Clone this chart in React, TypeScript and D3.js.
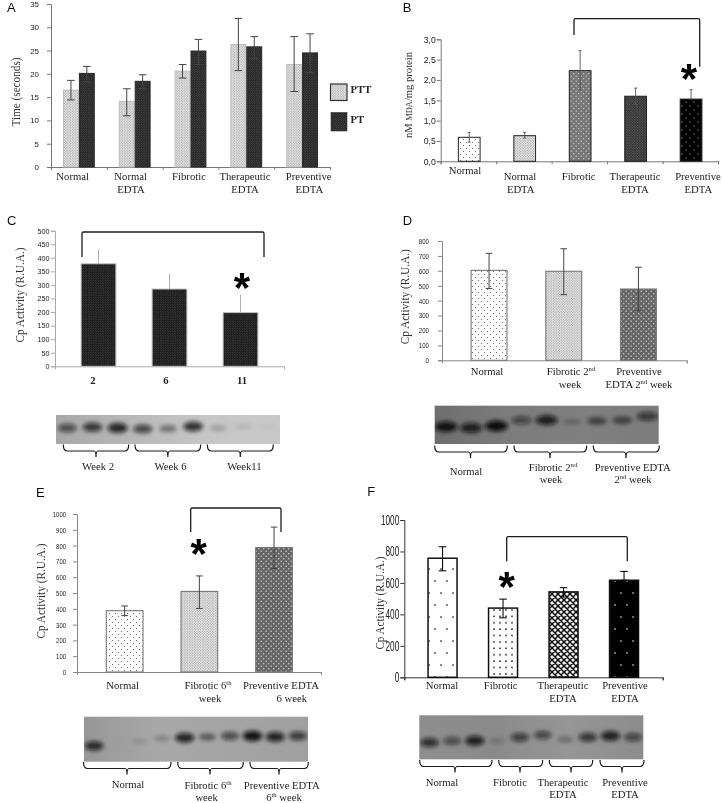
import React, { useEffect, useRef } from 'react';
import * as d3 from 'd3';

// values
const fiveGroups = ['Normal', 'Normal EDTA', 'Fibrotic', 'Therapeutic EDTA', 'Preventive EDTA'];
const pttValues = [16.5, 14.1, 20.6, 26.3, 22];
const pttLow = [14.4, 11, 19.1, 20.7, 16.2];
const pttHigh = [18.6, 16.8, 22, 31.9, 28];
const ptValues = [20.1, 18.4, 24.9, 25.8, 24.5];
const ptLow = [18.3, 16.8, 22, 23.3, 20.3];
const ptHigh = [21.6, 19.8, 27.4, 28, 28.6];
const timeTicks = [0, 5, 10, 15, 20, 25, 30, 35];

const mdaValues = [0.59, 0.63, 2.23, 1.6, 1.53];
const mdaLow = [0.47, 0.57, 1.75, 1.4, 1.53];
const mdaHigh = [0.71, 0.71, 2.72, 1.8, 1.76];
const mdaTicks = [0, 0.5, 1, 1.5, 2, 2.5, 3];

const weeks = ['2', '6', '11'];
const weekValues = [378, 285, 198];
const weekHigh = [431, 342, 265];
const weekTicks = d3.range(0, 501, 50);

const week2Groups = ['Normal', 'Fibrotic', 'Preventive'];
const week2Values = [603, 597, 478];
const week2Low = [482, 440, 332];
const week2High = [717, 748, 624];
const week2Ticks = d3.range(0, 801, 100);

const week6Groups = ['Normal', 'Fibrotic', 'Preventive'];
const week6Values = [388, 510, 788];
const week6Low = [357, 402, 655];
const week6High = [418, 608, 917];
const week6Ticks = d3.range(0, 1001, 100);

const fourGroups = ['Normal', 'Fibrotic', 'Therapeutic', 'Preventive'];
const finalValues = [757, 440, 543, 617];
const finalLow = [677, 378, 510, 617];
const finalHigh = [830, 497, 570, 673];
const finalTicks = [0, 200, 400, 600, 800, 1000];

// blot lanes: band darkness and how far down the gel the band ran
const blotCDark = [0.62, 0.75, 0.85, 0.68, 0.4, 0.8, 0.2, 0.1, 0.04];
const blotCRun = [0.45, 0.42, 0.45, 0.48, 0.47, 0.4, 0.45, 0.4, 0.4];
const blotDDark = [0.95, 0.85, 1, 0.55, 0.85, 0.22, 0.5, 0.5, 0.65];
const blotDRun = [0.55, 0.58, 0.53, 0.38, 0.38, 0.42, 0.4, 0.38, 0.28];
const blotEDark = [0.8, 0.02, 0.12, 0.22, 0.85, 0.45, 0.6, 0.95, 0.85, 0.7];
const blotERun = [0.65, 0.55, 0.55, 0.48, 0.47, 0.45, 0.43, 0.43, 0.45, 0.43];
const blotFDark = [0.75, 0.55, 0.85, 0.18, 0.65, 0.6, 0.28, 0.7, 0.85, 0.6];
const blotFRun = [0.62, 0.58, 0.58, 0.58, 0.5, 0.45, 0.55, 0.5, 0.47, 0.5];

const SERIF = '"Liberation Serif", serif';
const SANS = '"Liberation Sans", sans-serif';

type Sel = d3.Selection<any, any, any, any>;

function addPatterns(defs: Sel) {
  const make = (id: string, w: number, h: number, bg: string) => {
    const p = defs.append('pattern').attr('id', id).attr('width', w).attr('height', h)
      .attr('patternUnits', 'userSpaceOnUse');
    p.append('rect').attr('width', w).attr('height', h).attr('fill', bg);
    return p;
  };
  const dots = (p: Sel, pts: number[][], r: number, c: string) => {
    pts.forEach(([x, y]) => p.append('circle').attr('cx', x).attr('cy', y).attr('r', r).attr('fill', c));
  };
  dots(make('sparse', 6, 6, '#fff'), [[1.5, 1.5], [4.5, 4.5]], 0.5, '#444');
  dots(make('fine', 2.6, 2.6, '#efefef'), [[0.65, 0.65], [1.95, 1.95]], 0.55, '#888');
  dots(make('midDots', 5, 5, '#666'), [[1.2, 1.2], [3.7, 3.7]], 0.75, '#d0d0d0');
  dots(make('darkFine', 2.4, 2.4, '#242424'), [[0.6, 0.6], [1.8, 1.8]], 0.4, '#707070');
  dots(make('weekDark', 2.4, 2.4, '#1c1c1c'), [[0.6, 0.6], [1.8, 1.8]], 0.38, '#666');
  dots(make('grayDots', 5, 5, '#777'), [[1.2, 1.2], [3.7, 3.7]], 0.6, '#ddd');
  dots(make('hatchDark', 2.6, 2.6, '#2b2b2b'), [[0.6, 0.6], [1.9, 1.9]], 0.5, '#888');
  dots(make('blackDots', 8, 8, '#050505'), [[2, 2], [6, 6]], 0.5, '#eee');
  dots(make('bigSparse', 12, 24, '#fff'), [[3, 5], [9, 17]], 0.85, '#111');
  dots(make('bigDense', 6, 6.4, '#fff'), [[2, 2]], 0.85, '#111');
  const cross = make('crossHatch', 6, 6, '#f4f4f4');
  cross.append('path').attr('d', 'M-1,1 L1,-1 M0,6 L6,0 M5,7 L7,5 M-1,5 L1,7 M0,0 L6,6 M5,-1 L7,1')
    .attr('stroke', '#111').attr('stroke-width', 1.5);
  dots(make('bigBlack', 12, 24, '#030303'), [[3, 5], [9, 17]], 0.8, '#f2f2f2');
}

// writes "Fibrotic 2^nd" with a raised suffix
function addLabel(root: Sel, str: string, x: number, y: number, size = 10.7, weight = 'normal') {
  const t = root.append('text').attr('x', x).attr('y', y).attr('text-anchor', 'middle')
    .attr('font-family', SERIF).attr('font-size', size).attr('font-weight', weight).attr('fill', '#222');
  const parts = str.split('^');
  t.append('tspan').text(parts[0]);
  parts.slice(1).forEach(part => {
    const m = part.match(/^(\S+)(.*)$/)!;
    t.append('tspan').attr('font-size', size * 0.62).attr('dy', -size * 0.33).text(m[1]);
    if (m[2]) t.append('tspan').attr('dy', size * 0.33).text(m[2]);
  });
}

function yTitle(root: Sel, str: string, x: number, cy: number, len: number, size = 11.5) {
  root.append('text').attr('transform', `translate(${x},${cy}) rotate(-90)`)
    .attr('text-anchor', 'middle').attr('dy', '0.32em').attr('font-family', SERIF)
    .attr('font-size', size).attr('fill', '#333').attr('textLength', len)
    .attr('lengthAdjust', 'spacingAndGlyphs').text(str);
}

function panelLetter(root: Sel, str: string, x: number, y: number) {
  root.append('text').attr('x', x).attr('y', y).attr('font-family', SANS).attr('font-size', 13)
    .attr('fill', '#111').text(str);
}

function star(root: Sel, x: number, cy: number) {
  root.append('text').attr('x', x).attr('y', cy + 17).attr('text-anchor', 'middle')
    .attr('font-family', SANS).attr('font-weight', 'bold').attr('font-size', 42).attr('fill', '#000').text('*');
}

function bracket(root: Sel, x0: number, x1: number, top: number, b0: number, b1: number) {
  root.append('path').attr('fill', 'none').attr('stroke', '#1c1c1c').attr('stroke-width', 1.3)
    .attr('d', `M${x0},${b0} V${top + 1.5} Q${x0},${top} ${x0 + 1.5},${top} H${x1 - 1.5} Q${x1},${top} ${x1},${top + 1.5} V${b1}`);
}

function brace(root: Sel, x0: number, x1: number, top: number, tipAt?: number) {
  const h = 6.5;
  const mid = tipAt ?? (x0 + x1) / 2;
  root.append('path').attr('fill', 'none').attr('stroke', '#1a1a1a').attr('stroke-width', 1.2)
    .attr('d', `M${x0},${top} Q${x0},${top + h} ${x0 + 4},${top + h} H${mid - 2} Q${mid},${top + h} ${mid},${top + h + 6} Q${mid},${top + h} ${mid + 2},${top + h} H${x1 - 4} Q${x1},${top + h} ${x1},${top}`);
}

function blot(root: Sel, id: string, box: number[], dark: number[], run: number[], bg: string[], rx: number) {
  const [x0, y0, x1, y1] = box;
  const defs = root.append('defs');
  const grad = defs.append('linearGradient').attr('id', `grad-${id}`);
  bg.forEach((c, i) => grad.append('stop').attr('offset', i / (bg.length - 1)).attr('stop-color', c));
  defs.append('clipPath').attr('id', `clip-${id}`).append('rect')
    .attr('x', x0).attr('y', y0).attr('width', x1 - x0).attr('height', y1 - y0);
  root.append('rect').attr('x', x0).attr('y', y0).attr('width', x1 - x0).attr('height', y1 - y0)
    .attr('fill', `url(#grad-${id})`);
  const lane = d3.scalePoint<number>().domain(d3.range(dark.length)).range([x0, x1]).padding(0.45);
  const yy = d3.scaleLinear().domain([0, 1]).range([y0, y1]);
  root.append('g').attr('clip-path', `url(#clip-${id})`).append('g').attr('filter', 'url(#bandBlur)')
    .selectAll('ellipse').data(dark).join('ellipse')
    .attr('cx', (_, i) => lane(i)!)
    .attr('cy', (_, i) => yy(run[i]))
    .attr('rx', d => rx * (0.8 + 0.25 * d))
    .attr('ry', d => 2.4 + 3 * d)
    .attr('fill', '#0c0c0c')
    .attr('opacity', d => d);
}

interface BarPanel {
  groups: string[];
  series: { values: number[]; low?: number[]; high: number[]; fills: string[]; stroke: string }[];
  ticks: number[];
  fmt: (d: number) => string;
  yRange: [number, number];
  xRange: [number, number];
  axisEnd: [number, number];
  barPad: number;
  maxY: number;
  xTicks: number[];
  tickFont: number;
  tickWidth: number;
  tickPad: number;
  axisColor: string;
  errColor: string;
  errWidth: number;
  cap: number;
  strokeWidth: number;
}

function drawBars(root: Sel, p: BarPanel) {
  const y = d3.scaleLinear().domain([0, p.maxY]).range(p.yRange);
  const x = d3.scaleBand().domain(p.groups).range(p.xRange).paddingInner(p.barPad).paddingOuter(p.barPad / 2);
  const n = p.series.length;
  const barW = x.bandwidth() / n;

  const yAxis = root.append('g').attr('transform', `translate(${p.axisEnd[0]},0)`)
    .call(d3.axisLeft(y).tickValues(p.ticks).tickFormat(d => p.fmt(+d)).tickSizeOuter(0).tickSize(4).tickPadding(p.tickPad));
  yAxis.selectAll('line,path').attr('stroke', p.axisColor);
  yAxis.selectAll('text').attr('font-family', SANS).attr('font-size', p.tickFont).attr('fill', '#222')
    .attr('textLength', d => p.fmt(+(d as number)).length * p.tickWidth).attr('lengthAdjust', 'spacingAndGlyphs');

  const baseX = d3.scaleLinear().domain([0, 1]).range(p.axisEnd);
  const xAxis = root.append('g').attr('transform', `translate(0,${p.yRange[0]})`)
    .call(d3.axisBottom(baseX).tickValues(p.xTicks).tickSizeOuter(0).tickSize(3));
  xAxis.selectAll('line,path').attr('stroke', p.axisColor);
  xAxis.selectAll('text').remove();

  p.series.forEach((s, si) => {
    const gx = (g: string) => x(g)! + si * barW;
    root.append('g').selectAll('rect').data(p.groups).join('rect')
      .attr('x', d => gx(d) + p.strokeWidth / 2)
      .attr('width', barW - p.strokeWidth)
      .attr('y', (_, i) => y(s.values[i]))
      .attr('height', (_, i) => y(0) - y(s.values[i]))
      .attr('fill', (_, i) => `url(#${s.fills[i]})`)
      .attr('stroke', s.stroke)
      .attr('stroke-width', p.strokeWidth);

    const err = root.append('g').attr('stroke', p.errColor).attr('stroke-width', p.errWidth).attr('fill', 'none');
    p.groups.forEach((g, i) => {
      const cx = gx(g) + barW / 2;
      const lo = s.low ? s.low[i] : s.values[i];
      err.append('path').attr('d', d3.line()([[cx, y(lo)], [cx, y(s.high[i])]])!);
      if (p.cap > 0) {
        err.append('path').attr('d', d3.line()([[cx - p.cap, y(s.high[i])], [cx + p.cap, y(s.high[i])]])!);
        if (s.low) err.append('path').attr('d', d3.line()([[cx - p.cap, y(lo)], [cx + p.cap, y(lo)]])!);
      }
    });
  });
}

const text0 = (d: number) => String(d);

export default function App() {
  const svgRef = useRef<SVGSVGElement>(null);

  useEffect(() => {
    if (!svgRef.current) return;
    document.body.style.margin = '0';
    const svg = d3.select(svgRef.current);
    svg.selectAll('*').remove();
    const defs = svg.append('defs');
    addPatterns(defs);
    defs.append('filter').attr('id', 'bandBlur').attr('filterUnits', 'userSpaceOnUse')
      .attr('x', 0).attr('y', 0).attr('width', 722).attr('height', 803)
      .append('feGaussianBlur').attr('stdDeviation', 2.2);
    defs.append('filter').attr('id', 'soft').attr('filterUnits', 'userSpaceOnUse')
      .attr('x', 0).attr('y', 0).attr('width', 722).attr('height', 803)
      .append('feGaussianBlur').attr('stdDeviation', 0.4);
    const root = svg.append('g').attr('filter', 'url(#soft)');
    root.append('rect').attr('width', 722).attr('height', 803).attr('fill', '#fff');

    // A
    panelLetter(root, 'A', 7, 12);
    drawBars(root, {
      groups: fiveGroups,
      series: [
        { values: pttValues, low: pttLow, high: pttHigh, fills: Array(5).fill('fine'), stroke: '#bdbdbd' },
        { values: ptValues, low: ptLow, high: ptHigh, fills: Array(5).fill('darkFine'), stroke: '#2a2a2a' },
      ],
      ticks: timeTicks, fmt: text0, yRange: [167, 4], xRange: [51, 330], axisEnd: [51, 330], barPad: 0.43, maxY: 35,
      xTicks: d3.range(0, 1.01, 0.2), tickFont: 8, tickWidth: 4.4, tickPad: 8,
      axisColor: '#777', errColor: '#444', errWidth: 1, cap: 3.8, strokeWidth: 1,
    });
    yTitle(root, 'Time (seconds)', 16, 92, 69);
    [['Normal', 72.7, 180], ['Normal', 130.7, 180], ['EDTA', 131, 192.7], ['Fibrotic', 189, 180],
      ['Therapeutic', 245, 180], ['EDTA', 245, 192.7], ['Preventive', 308.7, 180], ['EDTA', 309.3, 192.7]]
      .forEach(([s, x, y]) => addLabel(root, s as string, x as number, y as number));
    root.append('rect').attr('x', 330.5).attr('y', 84).attr('width', 16.5).attr('height', 16.5)
      .attr('fill', 'url(#fine)').attr('stroke', '#333').attr('stroke-width', 1.2);
    root.append('rect').attr('x', 331).attr('y', 112.5).attr('width', 16).attr('height', 18.5)
      .attr('fill', 'url(#darkFine)').attr('stroke', '#333').attr('stroke-width', 0.6);
    root.append('text').attr('x', 350.5).attr('y', 93).attr('font-family', SERIF).attr('font-weight', 'bold')
      .attr('font-size', 10.7).attr('fill', '#222').text('PTT');
    root.append('text').attr('x', 350.5).attr('y', 123).attr('font-family', SERIF).attr('font-weight', 'bold')
      .attr('font-size', 10.7).attr('fill', '#222').text('PT');

    // B
    panelLetter(root, 'B', 402.7, 12);
    drawBars(root, {
      groups: fiveGroups,
      series: [{ values: mdaValues, low: mdaLow, high: mdaHigh, fills: ['sparse', 'fine', 'grayDots', 'hatchDark', 'blackDots'], stroke: '#222' }],
      ticks: mdaTicks, fmt: d => d3.format('.1f')(d).replace('.', ','), yRange: [161.3, 39.3], xRange: [441.5, 718.8], axisEnd: [440.7, 718], barPad: 0.59, maxY: 3,
      xTicks: d3.range(0, 1.01, 0.2), tickFont: 9, tickWidth: 4, tickPad: 1,
      axisColor: '#777', errColor: '#555', errWidth: 0.9, cap: 1.5, strokeWidth: 1,
    });
    const mdaTitle = root.append('text').attr('transform', 'translate(409,95) rotate(-90)').attr('text-anchor', 'middle')
      .attr('dy', '0.32em').attr('font-family', SERIF).attr('font-size', 10.6).attr('fill', '#333');
    mdaTitle.append('tspan').text('nM ');
    mdaTitle.append('tspan').attr('font-size', 8.4).text('MDA');
    mdaTitle.append('tspan').text('/mg protein');
    [['Normal', 465, 174.3], ['Normal', 520, 180], ['EDTA', 520.7, 192.7], ['Fibrotic', 578.7, 180],
      ['Therapeutic', 635, 180], ['EDTA', 635, 192.7], ['Preventive', 698, 180], ['EDTA', 698.3, 192.7]]
      .forEach(([s, x, y]) => addLabel(root, s as string, x as number, y as number));
    bracket(root, 574, 699.7, 18.7, 35, 66.7);
    star(root, 689, 76);

    // C
    panelLetter(root, 'C', 7, 225);
    drawBars(root, {
      groups: weeks,
      series: [{ values: weekValues, high: weekHigh, fills: ['weekDark', 'weekDark', 'weekDark'], stroke: '#c0c0c0' }],
      ticks: weekTicks, fmt: text0, yRange: [366.3, 230.7], xRange: [63, 276], axisEnd: [55, 284], barPad: 0.496, maxY: 500,
      xTicks: [], tickFont: 7.2, tickWidth: 4, tickPad: 1.5,
      axisColor: '#aaa', errColor: '#aaa', errWidth: 0.9, cap: 0, strokeWidth: 1,
    });
    yTitle(root, 'Cp Activity (R.U.A.)', 20, 295, 95);
    [['2', 93, 384], ['6', 166, 384], ['11', 242, 384]]
      .forEach(([s, x, y]) => addLabel(root, s as string, x as number, y as number, 10.7, 'bold'));
    bracket(root, 82, 264, 232, 257, 257);
    star(root, 242, 285);
    blot(root, 'c', [56, 415, 280, 444], blotCDark, blotCRun, ['#a8a8a8', '#b8b8b8', '#c6c6c6', '#c8c8c8'], 10);
    brace(root, 63.3, 128.7, 444.5);
    brace(root, 135, 200.7, 444.5);
    brace(root, 207.3, 273.3, 444.5);
    [['Week 2', 98, 470], ['Week 6', 170.5, 470], ['Week11', 244.5, 470]]
      .forEach(([s, x, y]) => addLabel(root, s as string, x as number, y as number));

    // D
    panelLetter(root, 'D', 402.7, 225);
    drawBars(root, {
      groups: week2Groups,
      series: [{ values: week2Values, low: week2Low, high: week2High, fills: ['sparse', 'fine', 'midDots'], stroke: '#777' }],
      ticks: week2Ticks, fmt: text0, yRange: [360.3, 241], xRange: [451.7, 675.8], axisEnd: [442, 686.7], barPad: 0.505, maxY: 800,
      xTicks: [1], tickFont: 7.5, tickWidth: 3.4, tickPad: 9,
      axisColor: '#888', errColor: '#444', errWidth: 1, cap: 3.3, strokeWidth: 1.1,
    });
    yTitle(root, 'Cp Activity (R.U.A.)', 405, 296.7, 95);
    [['Normal', 487, 375], ['Fibrotic 2^nd', 571, 375], ['week', 570, 388], ['Preventive', 639, 375], ['EDTA 2^nd week', 639, 388]]
      .forEach(([s, x, y]) => addLabel(root, s as string, x as number, y as number));
    blot(root, 'd', [434.7, 405.7, 658.7, 444], blotDDark, blotDRun, ['#6e6e6e', '#7c7c7c', '#808080', '#7c7c7c'], 11);
    brace(root, 434.7, 507.3, 445.5, 470.5);
    brace(root, 514, 586.7, 445.5, 550);
    brace(root, 593.3, 659.3, 445.5, 626);
    [['Normal', 466, 475], ['Fibrotic 2^nd', 553, 470.7], ['week', 551, 483], ['Preventive EDTA', 632.7, 470.7], ['2^nd week', 633, 483]]
      .forEach(([s, x, y]) => addLabel(root, s as string, x as number, y as number));

    // E
    panelLetter(root, 'E', 36, 496.7);
    drawBars(root, {
      groups: week6Groups,
      series: [{ values: week6Values, low: week6Low, high: week6High, fills: ['sparse', 'fine', 'midDots'], stroke: '#777' }],
      ticks: week6Ticks, fmt: text0, yRange: [672, 514], xRange: [87.3, 311.4], axisEnd: [77, 321], barPad: 0.494, maxY: 1000,
      xTicks: [1], tickFont: 7.5, tickWidth: 3.3, tickPad: 7,
      axisColor: '#888', errColor: '#444', errWidth: 1, cap: 3.3, strokeWidth: 1.1,
    });
    yTitle(root, 'Cp Activity (R.U.A.)', 41.7, 591, 95);
    [['Normal', 122.7, 689], ['Fibrotic 6^th', 208, 689], ['week', 210, 701.7], ['Preventive EDTA', 281, 689], ['6 week', 291.7, 701.7]]
      .forEach(([s, x, y]) => addLabel(root, s as string, x as number, y as number));
    bracket(root, 190.7, 281, 508, 532, 532);
    star(root, 198.7, 551);
    blot(root, 'e', [84, 716.7, 308, 761.7], blotEDark, blotERun, ['#979797', '#a8a8a8', '#a4a4a4', '#a0a0a0'], 9.5);
    brace(root, 83.5, 171, 762, 127);
    brace(root, 177.7, 243.3, 762, 210);
    brace(root, 250, 308.3, 762, 279);
    [['Normal', 128, 787.7], ['Fibrotic 6^th', 208, 789], ['week', 206.7, 801], ['Preventive EDTA', 281.7, 789], ['6^th week', 284, 801]]
      .forEach(([s, x, y]) => addLabel(root, s as string, x as number, y as number));

    // F
    panelLetter(root, 'F', 367.3, 496);
    drawBars(root, {
      groups: fourGroups,
      series: [{ values: finalValues, low: finalLow, high: finalHigh, fills: ['bigSparse', 'bigDense', 'crossHatch', 'bigBlack'], stroke: '#111' }],
      ticks: finalTicks, fmt: text0, yRange: [677.3, 520], xRange: [412.3, 654.3], axisEnd: [404.3, 662.7], barPad: 0.496, maxY: 1000,
      xTicks: [0, 1], tickFont: 14, tickWidth: 4.6, tickPad: 1,
      axisColor: '#333', errColor: '#111', errWidth: 1.1, cap: 3.8, strokeWidth: 1.5,
    });
    yTitle(root, 'Cp Activity (R.U.A.)', 380, 603, 93);
    [['Normal', 442, 689], ['Fibrotic', 500.7, 689], ['Therapeutic', 563, 689], ['EDTA', 563, 701.7], ['Preventive', 625, 689], ['EDTA', 625, 701.7]]
      .forEach(([s, x, y]) => addLabel(root, s as string, x as number, y as number));
    bracket(root, 506.7, 627.3, 536.7, 561.3, 561.3);
    star(root, 506.7, 584);
    blot(root, 'f', [419.3, 715.3, 643.3, 759.3], blotFDark, blotFRun, ['#8e8e8e', '#8a8a8a', '#969696', '#8c8c8c'], 9.5);
    brace(root, 419.7, 492, 760, 455);
    brace(root, 498.7, 542.7, 760, 520);
    brace(root, 549.3, 592.7, 760, 571);
    brace(root, 600, 644, 760, 622);
    [['Normal', 442, 785.7], ['Fibrotic', 510, 785.7], ['Therapeutic', 563, 785.7], ['EDTA', 563, 798], ['Preventive', 625, 785.7], ['EDTA', 625, 798]]
      .forEach(([s, x, y]) => addLabel(root, s as string, x as number, y as number));
  }, []);

  return <svg ref={svgRef} width={722} height={803} style={{ display: 'block' }} />;
}
